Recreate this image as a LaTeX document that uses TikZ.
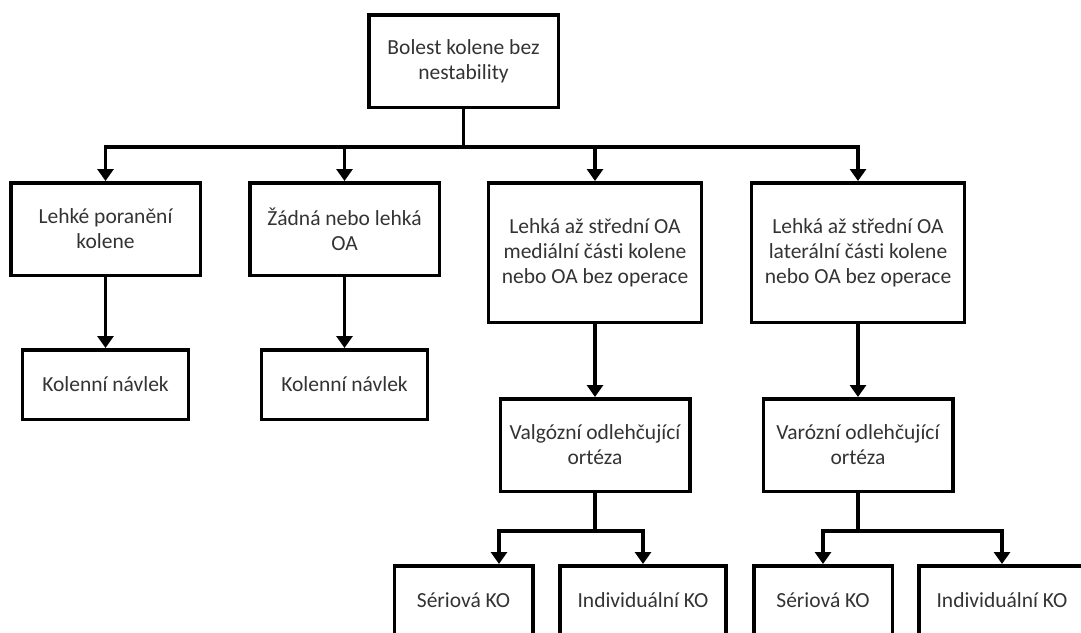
\documentclass[tikz,border=0pt]{standalone}
\usepackage{fontspec}
\setmainfont{Carlito}[Ligatures=NoCommon]
\usetikzlibrary{arrows.meta}
\definecolor{labelgray}{HTML}{333333}

\begin{document}
\begin{tikzpicture}[
  x=1pt,y=-1pt,
  box/.style={draw,line width=3.5pt,align=center,text=labelgray,inner sep=2pt,
    font=\fontsize{21.5}{25}\selectfont},
  mid/.style={box,minimum width=189.5pt,minimum height=92.5pt},
  tall/.style={box,minimum width=213pt,minimum height=139.5pt},
  leaf/.style={box,minimum width=166pt,minimum height=69.5pt},
  koleaf/.style={box,minimum width=138.5pt,minimum height=69.5pt},
  arr/.style={-{Triangle[length=12pt,width=16pt]},line width=3.5pt}
]
  \useasboundingbox (0,0) rectangle (1081,632);
  \node[mid] (root) at (463.5,61) {Bolest kolene bez\\nestability};
  \node[mid] (injury) at (105.5,229) {Lehké poranění\\kolene};
  \node[mid] (mildoa) at (344.5,229) {Žádná nebo lehká\\OA};
  \node[tall] (medial) at (595,252.5) {Lehká až střední OA\\mediální části kolene\\nebo OA bez operace};
  \node[tall] (lateral) at (858,252.5) {Lehká až střední OA\\laterální části kolene\\nebo OA bez operace};
  \node[leaf] (sleeve1) at (105.5,384.5) {Kolenní návlek};
  \node[leaf] (sleeve2) at (344.5,384.5) {Kolenní návlek};
  \node[mid] (valgus) at (595,445) {Valgózní odlehčující\\ortéza};
  \node[mid] (varus) at (858,445) {Varózní odlehčující\\ortéza};
  \node[koleaf] (serial1) at (463.5,600.5) {Sériová KO};
  \node[leaf] (custom1) at (643,600.5) {Individuální KO};
  \node[koleaf] (serial2) at (823,600.5) {Sériová KO};
  \node[leaf] (custom2) at (1002,600.5) {Individuální KO};
  \foreach \n in {injury,mildoa,medial,lateral}
    \draw[arr] (root.south) -- ++(0,38) -| (\n.north);
  \draw[arr] (injury) -- (sleeve1);
  \draw[arr] (mildoa) -- (sleeve2);
  \draw[arr] (medial) -- (valgus);
  \draw[arr] (lateral) -- (varus);
  \draw[arr] (valgus.south) -- ++(0,38) -| ([xshift=35.5pt]serial1.north);
  \draw[arr] (valgus.south) -- ++(0,38) -| (custom1.north);
  \draw[arr] (varus.south) -- ++(0,38) -| (serial2.north);
  \draw[arr] (varus.south) -- ++(0,38) -| (custom2.north);
\end{tikzpicture}
\end{document}
